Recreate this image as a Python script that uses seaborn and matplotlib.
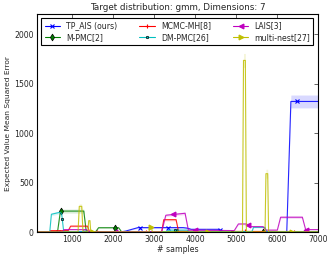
import numpy as np
import pandas as pd
import matplotlib
matplotlib.use('Agg')
import matplotlib.pyplot as plt
from matplotlib.lines import Line2D
import seaborn as sns

# methods, in the order they are drawn (legend fills column by column)
methods = ['TP_AIS (ours)', 'M-PMC[2]', 'MCMC-MH[8]', 'DM-PMC[26]', 'LAIS[3]', 'multi-nest[27]']

# breakpoints of every curve: # samples, mean MSE, std of MSE
tp_ais_x = [130, 2200, 2300, 2600, 3700, 3800, 3900, 4550, 4700, 6230, 6330, 7000]
tp_ais_y = [3, 3, 10, 45, 45, 40, 28, 28, 4, 4, 1320, 1320]
tp_ais_s = [2, 2, 3, 8, 8, 8, 5, 5, 2, 2, 65, 65]
tp_ais_mk = [660, 1300, 2650, 3330, 4600, 6470]

mpmc_x = [130, 640, 710, 1280, 1340, 1570, 1640, 2130, 2200, 7000]
mpmc_y = [3, 3, 212, 212, 3, 3, 44, 44, 3, 3]
mpmc_s = [2, 2, 20, 20, 2, 2, 6, 6, 2, 2]
mpmc_mk = [725, 2040, 3550, 5650]

mcmc_x = [130, 440, 470, 900, 960, 1370, 1420, 3180, 3230, 3530, 3590, 7000]
mcmc_y = [2, 2, 15, 15, 60, 60, 3, 3, 125, 125, 8, 5]
mcmc_s = [1, 1, 3, 3, 8, 8, 2, 2, 12, 12, 2, 2]
mcmc_mk = [1600, 2800, 4000, 5200, 6400]

dmpmc_x = [130, 450, 490, 700, 740, 790, 3300, 3350, 3800, 3850, 5380, 5420, 5700, 5740, 7000]
dmpmc_y = [2, 2, 180, 200, 185, 4, 4, 20, 20, 5, 5, 48, 48, 4, 4]
dmpmc_s = [1, 1, 15, 15, 15, 2, 2, 4, 4, 2, 2, 6, 6, 2, 2]
dmpmc_mk = [756, 2100, 3500, 4900, 6300]

lais_x = [130, 760, 800, 1350, 1400, 3180, 3280, 3750, 3830, 4950, 5050, 5250, 5320,
          5650, 5720, 6000, 6080, 6610, 6690, 7000]
lais_y = [3, 3, 25, 25, 5, 5, 170, 190, 20, 15, 82, 82, 55, 55, 20, 20, 150, 150, 25, 25]
lais_s = [1, 1, 4, 4, 2, 2, 12, 14, 3, 3, 8, 8, 6, 6, 3, 3, 12, 12, 3, 3]
lais_mk = [2050, 3460, 4000, 5290, 6700]

mnest_x = [130, 1140, 1170, 1230, 1260, 1380, 1400, 1430, 1450, 2870, 2890, 2930, 2950,
           5150, 5175, 5220, 5245, 5700, 5722, 5765, 5787, 7000]
mnest_y = [2, 2, 260, 260, 2, 2, 115, 115, 2, 2, 55, 55, 2, 2, 1735, 1735, 2, 2, 590, 590, 2, 2]
mnest_s = [1, 1, 25, 25, 1, 1, 12, 12, 1, 1, 8, 8, 1, 1, 70, 70, 1, 1, 45, 45, 1, 1]
mnest_mk = [1500, 2910, 4300, 6350]

series = [
    (tp_ais_x, tp_ais_y, tp_ais_s, tp_ais_mk),
    (mpmc_x, mpmc_y, mpmc_s, mpmc_mk),
    (mcmc_x, mcmc_y, mcmc_s, mcmc_mk),
    (dmpmc_x, dmpmc_y, dmpmc_s, dmpmc_mk),
    (lais_x, lais_y, lais_s, lais_mk),
    (mnest_x, mnest_y, mnest_s, mnest_mk),
]

# old matplotlib look
colors = ['#0000ff', '#008000', '#ff0000', '#00bfbf', '#bf00bf', '#bfbf00']
markers = ['x', 'd', '+', '.', '<', '>']

sns.set_style('white', {'xtick.direction': 'in', 'ytick.direction': 'in',
                        'axes.edgecolor': 'black'})
plt.rcParams['font.family'] = ['DejaVu Sans']
plt.rcParams['xtick.top'] = True
plt.rcParams['ytick.right'] = True

fig = plt.figure(figsize=(3.33, 2.57), dpi=100)
ax = fig.add_axes([0.110, 0.097, 0.846, 0.847])

handles = []
for name, (x, y, s, mk), c, m in zip(methods, series, colors, markers):
    df = pd.DataFrame({'samples': x, 'mse': y, 'std': s})
    sns.lineplot(data=df, x='samples', y='mse', color=c, lw=0.8, alpha=0.85,
                 ax=ax, legend=False)
    ax.fill_between(df['samples'], df['mse'] - df['std'], df['mse'] + df['std'],
                    color=c, alpha=0.15, lw=0)
    # dark edges only on the small diamond and dot markers
    dark = m in ('d', '.')
    mk_kw = dict(marker=m, ms=3.5, mew=0.5 if dark else 0.8,
                 mfc=c, mec='k' if dark else c)
    ax.plot(mk, np.interp(mk, x, y), ls='none', **mk_kw)
    handles.append(Line2D([0], [0], color=c, lw=0.8, label=name, **mk_kw))

ax.set_xlim(130, 7000)
ax.set_ylim(0, 2200)
ax.set_xticks(range(1000, 7001, 1000))
ax.set_yticks(range(0, 2001, 500))
ax.tick_params(labelsize=5.6, length=3, width=0.5, pad=2, top=True, right=True)
for sp in ax.spines.values():
    sp.set_linewidth(0.8)

ax.set_title('Target distribution: gmm, Dimensions: 7', fontsize=6.3, pad=3.5)
ax.set_xlabel('# samples', fontsize=5.6, labelpad=1)
ax.set_ylabel('Expected Value Mean Squared Error', fontsize=5.4, labelpad=2)

leg = ax.legend(handles=handles, loc='upper center', ncol=3, fontsize=5.6,
                numpoints=1, handlelength=2.0, columnspacing=2.8,
                fancybox=False, framealpha=1, borderpad=0.4, labelspacing=0.3)
leg.get_frame().set_edgecolor('black')
leg.get_frame().set_linewidth(0.8)

fig.savefig('out.png', dpi=100, facecolor='white')
